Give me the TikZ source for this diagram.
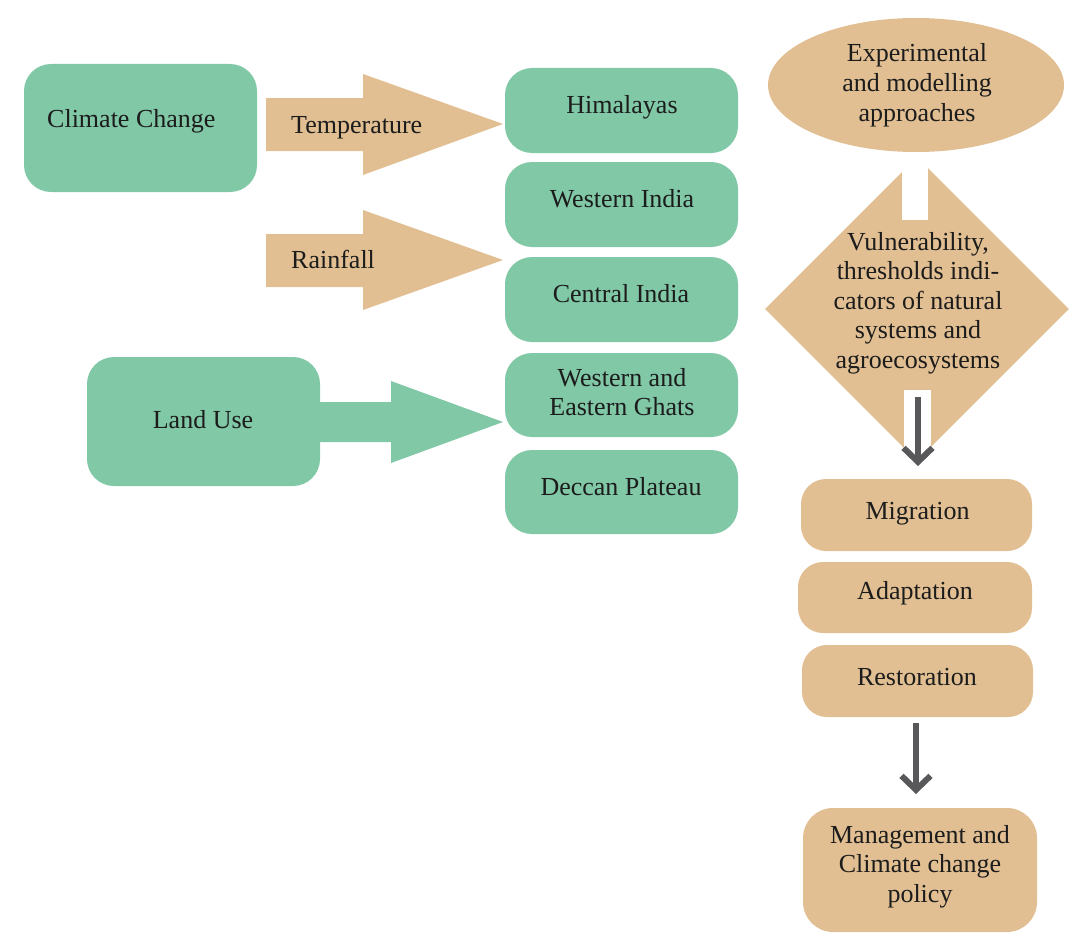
\documentclass[tikz,border=0pt]{standalone}
\usepackage{fontspec}
\setmainfont{Liberation Serif}
\usetikzlibrary{arrows.meta,shapes.geometric}
\definecolor{grn}{HTML}{80C8A6}
\definecolor{tanc}{HTML}{E1BF92}
\definecolor{ink}{HTML}{1C1C1C}
\definecolor{arrc}{HTML}{58585A}
\newcommand\mlines[1]{\begin{tabular}[t]{@{}c@{}}#1\end{tabular}}
\tikzset{
  gbox/.style={rectangle, rounded corners=27pt, fill=grn, draw=none, inner sep=0pt, minimum width=233pt},
  tbox/.style={rectangle, rounded corners=25pt, fill=tanc, draw=none, inner sep=0pt},
  txt/.style={inner sep=0pt, text=ink, anchor=base, font=\fontsize{26}{29.5}\selectfont},
  txtl/.style={txt, anchor=base west},
  darr/.style={draw=arrc, line width=6pt, -{Straight Barb[length=14pt,width=29pt]}}
}
\begin{document}
\begin{tikzpicture}[x=1pt,y=-1pt]
\useasboundingbox (0,0) rectangle (1073,934);

% green left boxes
\node[gbox, minimum height=128pt] (cc) at (140.5,128) {};
\node[gbox, minimum height=129pt] (lu) at (203.5,421.5) {};

% block arrows
\fill[tanc] (266,98) -- (363,98) -- (363,74) -- (503,124) -- (363,175) -- (363,151) -- (266,151) -- cycle;
\fill[tanc] (266,234) -- (363,234) -- (363,210) -- (503,260) -- (363,310) -- (363,287) -- (266,287) -- cycle;
\fill[grn] (318,402) -- (391,402) -- (391,381) -- (503,422) -- (391,463) -- (391,442) -- (318,442) -- cycle;

% green region boxes
\node[gbox, minimum height=85pt] (him) at (621.5,110.5) {};
\node[gbox, minimum height=85pt] (wi) at (621.5,204.5) {};
\node[gbox, minimum height=85pt] (ci) at (621.5,299.5) {};
\node[gbox, minimum height=84pt] (weg) at (621.5,395) {};
\node[gbox, minimum height=84pt] (dp) at (621.5,492) {};

% right column
\node[ellipse, fill=tanc, draw=none, inner sep=0pt, minimum width=296pt, minimum height=134pt] (exp) at (916,85) {};
\node[diamond, fill=tanc, draw=none, inner sep=0pt, minimum width=304pt, minimum height=304pt] (vul) at (917,309) {};
\fill[white] (902,156) rectangle (928,220);
\fill[white] (904,390) rectangle (931,470);

\node[tbox, minimum width=231pt, minimum height=72pt] (mig) at (916.5,515) {};
\node[tbox, minimum width=234pt, minimum height=71pt] (ada) at (915,597.5) {};
\node[tbox, minimum width=231pt, minimum height=72pt] (res) at (917.5,681) {};
\node[tbox, rounded corners=30pt, minimum width=234pt, minimum height=124pt] (mgmt) at (920,870) {};

% dark arrows
\coordinate (a1s) at (918,397);
\coordinate (a1e) at (918,466);
\draw[darr] (a1s) -- (a1e);
\coordinate (a2s) at (916,723);
\coordinate (a2e) at (916,794);
\draw[darr] (a2s) -- (a2e);

% texts
\node[txtl] (tcc) at (47,127) {Climate Change};
\node[txt] (tlu) at (203,428) {Land Use};
\node[txtl] (ttemp) at (291,133) {Temperature};
\node[txtl] (train) at (291,268) {Rainfall};
\node[txt] (thim) at (622,113) {Himalayas};
\node[txt] (twi) at (622,207) {Western India};
\node[txt] (tci) at (621,302) {Central India};
\node[txt] (tweg) at (622,386) {\mlines{Western and\\Eastern Ghats}};
\node[txt] (tdp) at (621,495) {Deccan Plateau};
\node[txt] (texp) at (917,62) {\mlines{Experimental\\and modelling\\approaches}};
\node[txt] (tvul) at (918,250) {\mlines{Vulnerability,\\thresholds indi-\\cators of natural\\systems and\\agroecosystems}};
\node[txt] (tmig) at (917.5,519) {Migration};
\node[txt] (tada) at (915,599) {Adaptation};
\node[txt] (tres) at (917,685) {Restoration};
\node[txt] (tmgmt) at (920,843) {\mlines{Management and\\Climate change\\policy}};
\end{tikzpicture}
\end{document}
